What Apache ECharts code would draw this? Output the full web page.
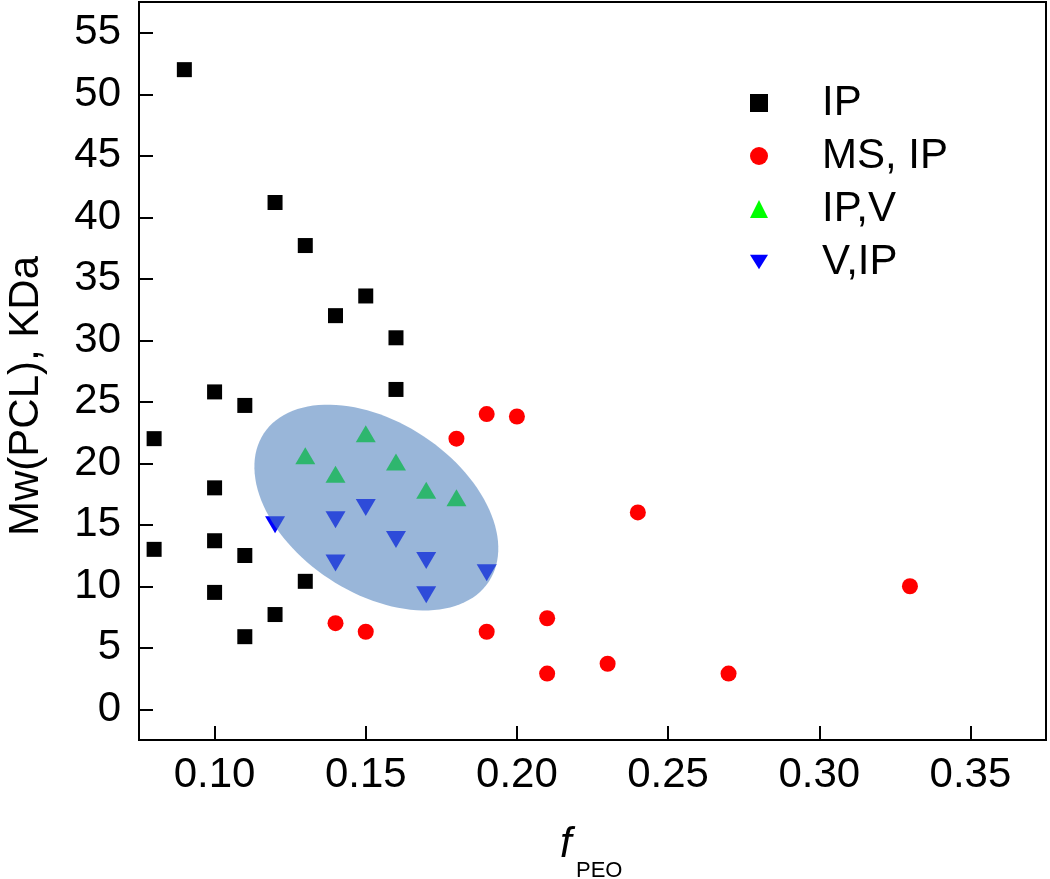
<!DOCTYPE html>
<html>
<head>
<meta charset="utf-8">
<script src="https://cdn.jsdelivr.net/npm/echarts@6/dist/echarts.min.js"></script>
<style>html,body{margin:0;padding:0;background:#fff}#c{width:1050px;height:879px}</style>
</head>
<body>
<div id="c"></div>
<script>
const xTicks = [0.10, 0.15, 0.20, 0.25, 0.30, 0.35];
const yTicks = [0, 5, 10, 15, 20, 25, 30, 35, 40, 45, 50, 55];

const ipData = [
  [0.09, 52.0], [0.12, 41.2], [0.13, 37.7], [0.15, 33.6], [0.14, 32.0], [0.16, 30.2],
  [0.16, 26.0], [0.10, 25.8], [0.11, 24.7], [0.08, 22.0], [0.10, 18.0], [0.10, 13.7],
  [0.08, 13.0], [0.11, 12.5], [0.13, 10.4], [0.10, 9.5], [0.12, 7.7], [0.11, 5.9]
];
const msIpData = [
  [0.18, 22.0], [0.19, 24.0], [0.20, 23.8], [0.24, 16.0], [0.33, 10.0], [0.14, 7.0],
  [0.15, 6.3], [0.19, 6.3], [0.21, 7.4], [0.21, 2.9], [0.23, 3.7], [0.27, 2.9]
];
const ipVData = [
  [0.13, 20.6], [0.14, 19.1], [0.15, 22.4], [0.16, 20.1], [0.17, 17.8], [0.18, 17.2]
];
const vIpData = [
  [0.12, 15.0], [0.14, 15.4], [0.15, 16.4], [0.14, 11.9], [0.16, 13.8], [0.17, 12.1],
  [0.17, 9.3], [0.19, 11.1]
];
// ellipse: center x, center y, conjugate semi-axis vectors (dx1, dy1), (dx2, dy2) in data units
const ellipseData = [[0.1535, 16.4, 0.0372, -6.03, -0.0156, -5.80]];

const FONT = 'Liberation Sans, Arial, sans-serif';
const chart = echarts.init(document.getElementById('c'));

chart.setOption({
  animation: false,
  backgroundColor: '#fff',
  grid: { left: 139, right: 4, top: 2, bottom: 139, show: true, borderColor: '#000', borderWidth: 2, backgroundColor: 'transparent' },
  xAxis: {
    type: 'value', min: 0.075, max: 0.375,
    axisLine: { show: true, onZero: false, lineStyle: { color: '#000', width: 2 } },
    axisTick: { show: true, inside: true, length: 14, lineStyle: { color: '#000', width: 2 }, customValues: xTicks },
    axisLabel: { color: '#000', fontSize: 42, fontFamily: FONT, margin: 14, customValues: xTicks, formatter: v => v.toFixed(2) },
    splitLine: { show: false }
  },
  yAxis: {
    type: 'value', min: -2.5, max: 57.5,
    axisLine: { show: true, onZero: false, lineStyle: { color: '#000', width: 2 } },
    axisTick: { show: true, inside: true, length: 14, lineStyle: { color: '#000', width: 2 }, customValues: yTicks },
    axisLabel: { color: '#000', fontSize: 42, fontFamily: FONT, margin: 18, customValues: yTicks },
    splitLine: { show: false }
  },
  legend: {
    orient: 'vertical', left: 750, top: 82, padding: 0,
    itemWidth: 18, itemHeight: 18, itemGap: 11,
    textStyle: { color: '#000', fontSize: 42, fontFamily: FONT, padding: [0, 0, 0, 49] },
    data: [
      { name: 'IP' },
      { name: 'MS, IP' },
      { name: 'IP,V' },
      { name: 'V,IP', icon: 'path://M0,0 L20,0 L10,16 Z' }
    ]
  },
  graphic: [
    { type: 'text', x: 26, y: 396, rotation: Math.PI / 2,
      style: { text: 'Mw(PCL), KDa', fill: '#000', font: '42px Liberation Sans, Arial, sans-serif', align: 'center', verticalAlign: 'middle' } },
    { type: 'text', x: 560, y: 845,
      style: { text: 'f', fill: '#000', font: 'italic 42px Liberation Sans, Arial, sans-serif', align: 'left', verticalAlign: 'middle' } },
    { type: 'text', x: 576, y: 871,
      style: { text: 'PEO', fill: '#000', font: '22px Liberation Sans, Arial, sans-serif', align: 'left', verticalAlign: 'middle' } }
  ],
  series: [
    { name: 'IP', type: 'scatter', symbol: 'rect', symbolSize: 15, itemStyle: { color: '#000', opacity: 1 }, data: ipData, z: 2 },
    { name: 'MS, IP', type: 'scatter', symbol: 'circle', symbolSize: 16, itemStyle: { color: '#ff0000', opacity: 1 }, data: msIpData, z: 2 },
    { name: 'IP,V', type: 'scatter', symbol: 'triangle', symbolSize: [20, 17], itemStyle: { color: '#00ff00', opacity: 1 }, data: ipVData, z: 2 },
    { name: 'V,IP', type: 'scatter', symbol: 'triangle', symbolRotate: 180, symbolSize: [20, 17], itemStyle: { color: '#0000ff', opacity: 1 }, data: vIpData, z: 2 },
    {
      name: 'region', type: 'custom', z: 5, silent: true,
      data: ellipseData,
      renderItem: function (params, api) {
        const cx = api.value(0), cy = api.value(1);
        const ux = api.value(2), uy = api.value(3), vx = api.value(4), vy = api.value(5);
        const pts = [];
        for (let i = 0; i < 120; i++) {
          const t = i / 120 * Math.PI * 2;
          pts.push(api.coord([cx + ux * Math.cos(t) + vx * Math.sin(t), cy + uy * Math.cos(t) + vy * Math.sin(t)]));
        }
        return { type: 'polygon', shape: { points: pts }, style: { fill: '#4f81bd', opacity: 0.58 } };
      }
    }
  ]
});
</script>
</body>
</html>
